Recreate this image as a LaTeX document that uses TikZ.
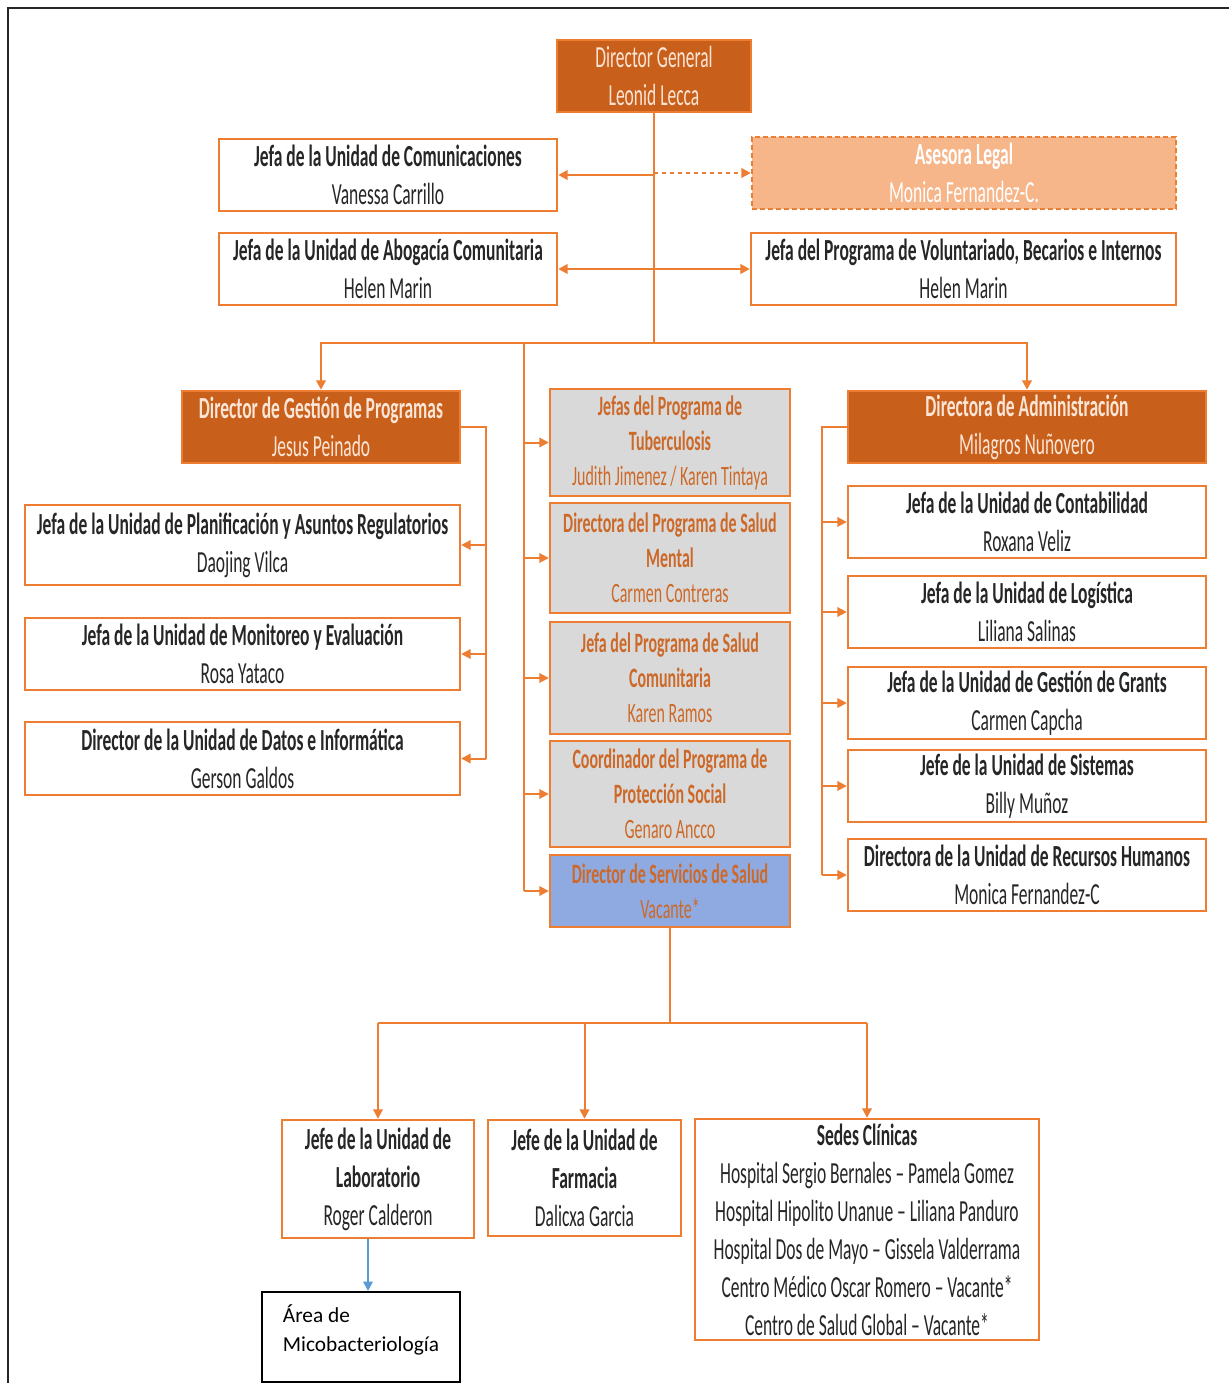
\documentclass[tikz,border=0pt]{standalone}
\usepackage{fontspec}
\newfontfamily\narrowfont{Carlito}[FakeStretch=0.57,Ligatures=TeX]
\newfontfamily\plainfont{Carlito}[Ligatures=TeX]
\usetikzlibrary{arrows.meta}
\definecolor{orgline}{RGB}{237,125,49}
\definecolor{bossfill}{RGB}{200,96,28}
\definecolor{bosstext}{RGB}{251,229,214}
\definecolor{legalfill}{RGB}{246,182,138}
\definecolor{progfill}{RGB}{217,217,217}
\definecolor{progtext}{RGB}{205,105,40}
\definecolor{servfill}{RGB}{143,170,225}
\definecolor{labblue}{RGB}{91,155,213}
\tikzset{
  unit/.style={draw=orgline, line width=1.8pt, fill=white, inner sep=0pt, align=center, text=black!85, font=\narrowfont\fontsize{23}{28.5}\selectfont},
  boss/.style={unit, fill=bossfill, draw=orgline, text=bosstext},
  legal/.style={unit, fill=legalfill, text=white, dash pattern=on 4pt off 2pt},
  prog/.style={unit, fill=progfill, text=progtext, font=\narrowfont\fontsize{21}{26.25}\selectfont},
  serv/.style={prog, fill=servfill},
  areabox/.style={draw=black, line width=1.5pt, fill=white, inner sep=0pt, align=left, font=\plainfont\fontsize{16}{21.75}\selectfont},
  wh/.style 2 args={minimum width=#1*0.75pt, minimum height=#2*0.75pt},
  link/.style={draw=orgline, line width=2.2pt},
  thinlink/.style={draw=orgline, line width=1.5pt},
  tip/.style={-{Triangle[length=7pt,width=7pt]}},
  tips/.style={{Triangle[length=7pt,width=7pt]}-{Triangle[length=7pt,width=7pt]}},
  frame/.style={draw=black!85, line width=2.2pt}
}
\begin{document}
\begin{tikzpicture}[x=0.75pt,y=0.75pt,yscale=-1]
\useasboundingbox (0,0) rectangle (1228,1383);
\draw[frame] (8,1400) -- (8,8) -- (1240,8);

\node[boss, wh={194}{72}] (dg) at (654,76) {Director General\\Leonid Lecca};
\node[unit, wh={338}{72}] (com) at (388,175) {\textbf{Jefa de la Unidad de Comunicaciones}\\Vanessa Carrillo};
\node[legal, wh={424}{72}] (legal) at (964,173) {\textbf{Asesora Legal}\\Monica Fernandez-C.};
\node[unit, wh={338}{72}] (abo) at (388,269) {\textbf{Jefa de la Unidad de Abogacía Comunitaria}\\Helen Marin};
\node[unit, wh={425}{72}] (vol) at (963.5,269) {\textbf{Jefa del Programa de Voluntariado, Becarios e Internos}\\Helen Marin};

\node[boss, wh={278}{72}] (gp) at (321,427) {\textbf{Director de Gestión de Programas}\\Jesus Peinado};
\node[unit, wh={435}{80}] (plan) at (242.5,545) {\textbf{Jefa de la Unidad de Planificación y Asuntos Regulatorios}\\Daojing Vilca};
\node[unit, wh={435}{72}] (mon) at (242.5,654) {\textbf{Jefa de la Unidad de Monitoreo y Evaluación}\\Rosa Yataco};
\node[unit, wh={435}{73}] (dat) at (242.5,758.5) {\textbf{Director de la Unidad de Datos e Informática}\\Gerson Galdos};

\node[prog, wh={240}{107}] (tb) at (670,442.5) {\textbf{Jefas del Programa de}\\\textbf{Tuberculosis}\\Judith Jimenez / Karen Tintaya};
\node[prog, wh={240}{110}] (sm) at (670,558) {\textbf{Directora del Programa de Salud}\\\textbf{Mental}\\Carmen Contreras};
\node[prog, wh={240}{112}] (sc) at (670,678) {\textbf{Jefa del Programa de Salud}\\\textbf{Comunitaria}\\Karen Ramos};
\node[prog, wh={240}{106}] (ps) at (670,794) {\textbf{Coordinador del Programa de}\\\textbf{Protección Social}\\Genaro Ancco};
\node[serv, wh={240}{72}] (ss) at (670,891) {\textbf{Director de Servicios de Salud}\\Vacante*};

\node[boss, wh={358}{72}] (adm) at (1027,427) {\textbf{Directora de Administración}\\Milagros Nuñovero};
\node[unit, wh={358}{72}] (cont) at (1027,522) {\textbf{Jefa de la Unidad de Contabilidad}\\Roxana Veliz};
\node[unit, wh={358}{72}] (log) at (1027,612) {\textbf{Jefa de la Unidad de Logística}\\Liliana Salinas};
\node[unit, wh={358}{72}] (gr) at (1027,703) {\textbf{Jefa de la Unidad de Gestión de Grants}\\Carmen Capcha};
\node[unit, wh={358}{72}] (sis) at (1027,786) {\textbf{Jefe de la Unidad de Sistemas}\\Billy Muñoz};
\node[unit, wh={358}{72}] (rh) at (1027,875) {\textbf{Directora de la Unidad de Recursos Humanos}\\Monica Fernandez-C};

\node[unit, wh={192}{118}] (lab) at (378,1179) {\textbf{Jefe de la Unidad de}\\\textbf{Laboratorio}\\Roger Calderon};
\node[unit, wh={193}{116}] (far) at (584.5,1178) {\textbf{Jefe de la Unidad de}\\\textbf{Farmacia}\\Dalicxa Garcia};
\node[unit, wh={344}{221}] (sed) at (867,1229.5) {\textbf{Sedes Clínicas}\\Hospital Sergio Bernales -- Pamela Gomez\\Hospital Hipolito Unanue -- Liliana Panduro\\Hospital Dos de Mayo -- Gissela Valderrama\\Centro Médico Oscar Romero -- Vacante*\\Centro de Salud Global -- Vacante*};
\node[areabox, wh={198}{90}, text depth=14pt] (area) at (361,1337) {Área de\\Micobacteriología};

\coordinate (hub) at (654,343);
\coordinate (spine) at (524,343);
\coordinate (gpbus) at (486,427);
\coordinate (admbus) at (822,427);
\coordinate (lowhub) at (670,1023);
\coordinate (labout) at ([xshift=-7.5pt]lab.south);

\draw[link] (dg.south) -- (hub);
\draw[link,tip] (dg.south |- com.east) -- (com.east);
\draw[link,dashed,tip] (dg.south |- legal.west) -- (legal.west);
\draw[link,tips] (abo.east) -- (vol.west);
\draw[link,tip] (hub) -| (gp.north);
\draw[link,tip] (hub) -| (adm.north);

\draw[thinlink] (spine) -- (spine |- ss.west);
\foreach \n in {tb,sm,sc,ps,ss} \draw[thinlink,tip] (spine |- \n.west) -- (\n.west);

\draw[thinlink] (gp.east) -- (gpbus) -- (gpbus |- dat.east);
\foreach \n in {plan,mon,dat} \draw[thinlink,tip] (gpbus |- \n.east) -- (\n.east);

\draw[thinlink] (adm.west) -- (admbus) -- (admbus |- rh.west);
\foreach \n in {cont,log,gr,sis,rh} \draw[thinlink,tip] (admbus |- \n.west) -- (\n.west);

\draw[thinlink] (ss.south) -- (lowhub);
\draw[thinlink] (lab.north |- lowhub) -- (sed.north |- lowhub);
\foreach \n in {lab,far,sed} \draw[thinlink,tip] (\n.north |- lowhub) -- (\n.north);

\draw[draw=labblue, line width=1.5pt, -{Triangle[length=7pt,width=7pt]}] (labout) -- (labout |- area.north);
\end{tikzpicture}
\end{document}
